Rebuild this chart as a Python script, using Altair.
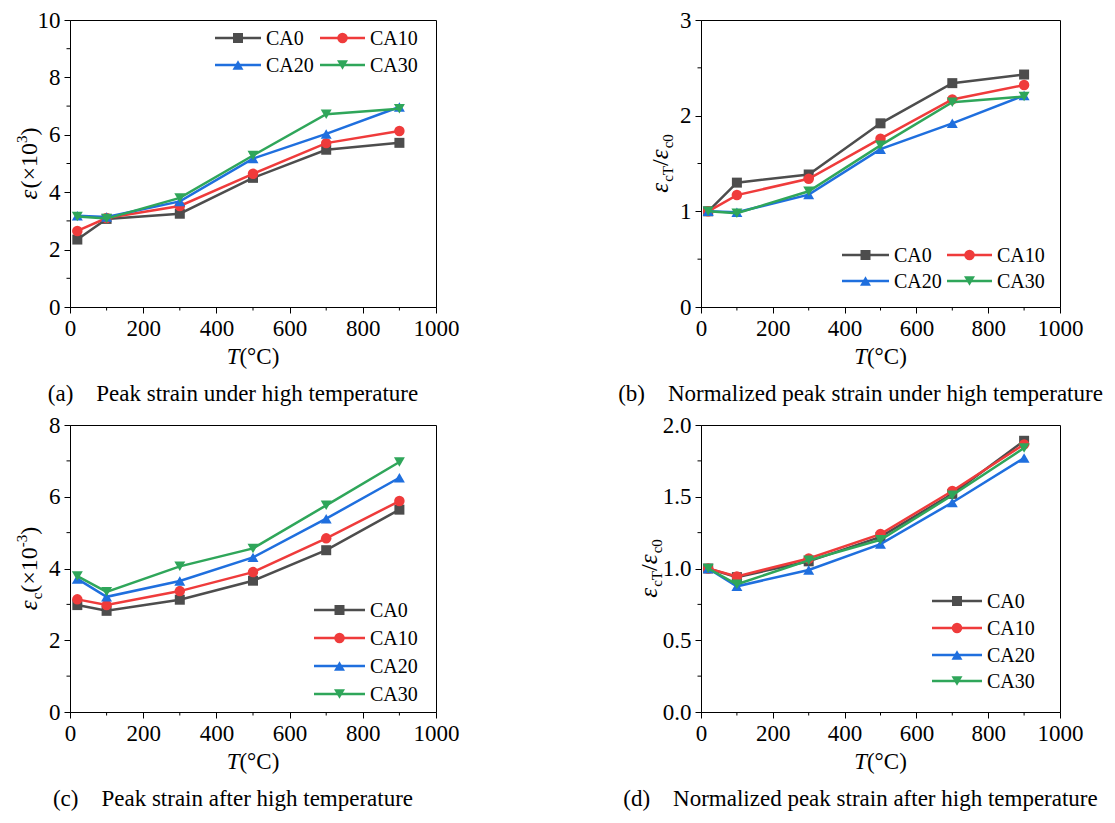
import altair as alt
import pandas as pd

# ---------------- data ----------------
T = [20, 100, 300, 500, 700, 900]
series = ["CA0", "CA10", "CA20", "CA30"]
colors = ["#4d4d4d", "#ef3b3b", "#1f6fde", "#2fa65a"]
shapes = ["square", "circle", "triangle-up", "triangle-down"]
sizes = [100, 110, 120, 120]

a_CA0 = [2.35, 3.07, 3.25, 4.50, 5.48, 5.72]
a_CA10 = [2.65, 3.10, 3.52, 4.64, 5.71, 6.13]
a_CA20 = [3.18, 3.14, 3.68, 5.17, 6.03, 6.97]
a_CA30 = [3.15, 3.08, 3.80, 5.28, 6.72, 6.91]

b_CA0 = [1.0, 1.30, 1.385, 1.92, 2.34, 2.43]
b_CA10 = [1.0, 1.17, 1.34, 1.76, 2.17, 2.32]
b_CA20 = [1.0, 0.99, 1.175, 1.65, 1.92, 2.21]
b_CA30 = [1.0, 0.98, 1.21, 1.69, 2.14, 2.20]

c_CA0 = [2.98, 2.82, 3.13, 3.66, 4.51, 5.64]
c_CA10 = [3.14, 2.98, 3.37, 3.90, 4.84, 5.88]
c_CA20 = [3.71, 3.21, 3.65, 4.31, 5.39, 6.53]
c_CA30 = [3.79, 3.35, 4.06, 4.56, 5.76, 6.97]

d_CA0 = [1.0, 0.94, 1.05, 1.22, 1.52, 1.89]
d_CA10 = [1.0, 0.945, 1.07, 1.24, 1.54, 1.865]
d_CA20 = [1.0, 0.876, 0.99, 1.17, 1.46, 1.77]
d_CA30 = [1.0, 0.89, 1.057, 1.20, 1.51, 1.84]

x_ticks = [0, 200, 400, 600, 800, 1000]
x_minor = [100, 300, 500, 700, 900]

a_yticks = [0, 2, 4, 6, 8, 10]
a_yminor = [1, 3, 5, 7, 9]
b_yticks = [0, 1, 2, 3]
b_yminor = [0.5, 1.5, 2.5]
c_yticks = [0, 2, 4, 6, 8]
c_yminor = [1, 3, 5, 7]
d_yticks = [0.0, 0.5, 1.0, 1.5, 2.0]
d_yminor = [0.25, 0.75, 1.25, 1.75]

captions = [
    "(a)\u00a0\u00a0\u00a0\u00a0Peak strain under high temperature",
    "(b)\u00a0\u00a0\u00a0\u00a0Normalized peak strain under high temperature",
    "(c)\u00a0\u00a0\u00a0\u00a0Peak strain after high temperature",
    "(d)\u00a0\u00a0\u00a0\u00a0Normalized peak strain after high temperature",
]

# ---------------- styling helpers ----------------
FONT = "Liberation Serif"
W1, W2, H = 366, 359, 287
ONE = pd.DataFrame({"k": [0]})

REG = {"(": 0.333, ")": 0.333, "\u00d7": 0.564, "-": 0.333, "/": 0.278,
       "\u00b0": 0.4, "C": 0.667, "c": 0.444, "T": 0.611}
for d in "0123456789":
    REG[d] = 0.5
ITA = {"\u03b5": 0.44, "T": 0.556}


def twidth(s, size, italic):
    tab = ITA if italic else REG
    return sum(tab.get(ch, 0.5) for ch in s) * size


def rich_text(pieces, cx, cy, vertical=False):
    """pieces: (text, size, italic, shift) ; shift>0 raises (superscript)."""
    total = sum(twidth(t, s, it) for t, s, it, _ in pieces)
    layers = []
    cum = 0.0
    for t, s, it, sh in pieces:
        mk = dict(text=t, font=FONT, fontSize=s, align="left",
                  baseline="alphabetic", color="black",
                  fontStyle="italic" if it else "normal")
        if vertical:
            y0 = cy + total / 2 - cum
            x0 = cx - sh
            layer = alt.Chart(ONE).mark_text(angle=270, **mk).encode(
                x=alt.value(x0), y=alt.value(y0))
        else:
            x0 = cx - total / 2 + cum
            y0 = cy - sh
            layer = alt.Chart(ONE).mark_text(**mk).encode(
                x=alt.value(x0), y=alt.value(y0))
        layers.append(layer)
        cum += twidth(t, s, it)
    return layers


def panel(vals, ydom, yticks, yminor, yfmt, W, ytitle, ytitle_x,
          legend_items, caption):
    xsc = alt.Scale(domain=[0, 1000], nice=False, zero=False)
    ysc = alt.Scale(domain=ydom, nice=False, zero=False)
    xax = alt.Axis(values=x_ticks, title=None, grid=False, tickSize=6,
                   labelPadding=4, format="d", labelFlush=False)
    yax = alt.Axis(values=yticks, title=None, grid=False, tickSize=6,
                   labelPadding=4, format=yfmt)
    X = alt.X("T:Q", scale=xsc, axis=xax)
    Y = alt.Y("v:Q", scale=ysc, axis=yax)

    layers = []
    # minor ticks
    layers.append(alt.Chart(pd.DataFrame({"T": x_minor})).mark_rule(
        color="black", strokeWidth=1).encode(
        x=X, y=alt.value(H), y2=alt.value(H + 3.5)))
    layers.append(alt.Chart(pd.DataFrame({"v": yminor})).mark_rule(
        color="black", strokeWidth=1).encode(
        y=Y, x=alt.value(0), x2=alt.value(-3.5)))

    for i, s in enumerate(series):
        df = pd.DataFrame({"T": T, "v": vals[i]})
        layers.append(alt.Chart(df).mark_line(
            color=colors[i], strokeWidth=2.5).encode(X, Y))
        layers.append(alt.Chart(df).mark_point(
            shape=shapes[i], filled=True, opacity=1, size=sizes[i],
            color=colors[i]).encode(X, Y))

    # legend
    for i, (lx0, lx1, ly) in legend_items:
        layers.append(alt.Chart(ONE).mark_rule(
            color=colors[i], strokeWidth=2.5).encode(
            x=alt.value(lx0), x2=alt.value(lx1), y=alt.value(ly)))
        layers.append(alt.Chart(ONE).mark_point(
            shape=shapes[i], filled=True, opacity=1, size=sizes[i],
            color=colors[i]).encode(
            x=alt.value((lx0 + lx1) / 2), y=alt.value(ly)))
        layers.append(alt.Chart(ONE).mark_text(
            text=series[i], font=FONT, fontSize=20, align="left",
            baseline="middle", color="black").encode(
            x=alt.value(lx1 + 5), y=alt.value(ly + 1)))

    # axis titles
    layers += rich_text(ytitle, ytitle_x, H / 2, vertical=True)
    layers += rich_text([("T", 23, True, 0), ("(\u00b0C)", 23, False, 0)],
                        W / 2, H + 57)
    # caption
    layers.append(alt.Chart(ONE).mark_text(
        text=caption, font=FONT, fontSize=23, align="center",
        baseline="alphabetic", color="black").encode(
        x=alt.value(W / 2 - 20), y=alt.value(H + 94)))

    return alt.layer(*layers).properties(width=W, height=H)


EPS = "\u03b5"

pa = panel([a_CA0, a_CA10, a_CA20, a_CA30], [0, 10], a_yticks, a_yminor, "d", W1,
           [(EPS, 25, True, 0), ("(\u00d710", 24, False, 0), ("3", 15, False, 10),
            (")", 24, False, 0)], -33,
           [(0, (W1 - 221, W1 - 175, 18)), (1, (W1 - 116, W1 - 71, 18)),
            (2, (W1 - 221, W1 - 175, 45)), (3, (W1 - 116, W1 - 71, 45))],
           captions[0])

pb = panel([b_CA0, b_CA10, b_CA20, b_CA30], [0, 3], b_yticks, b_yminor, "d", W2,
           [(EPS, 25, True, 0), ("cT", 15, False, -5), ("/", 24, False, 0),
            (EPS, 25, True, 0), ("c0", 15, False, -5)], -33,
           [(0, (W2 - 218, W2 - 171, H - 52)), (1, (W2 - 113, W2 - 68, H - 52)),
            (2, (W2 - 218, W2 - 171, H - 26)), (3, (W2 - 113, W2 - 68, H - 26))],
           captions[1])

pc = panel([c_CA0, c_CA10, c_CA20, c_CA30], [0, 8], c_yticks, c_yminor, "d", W1,
           [(EPS, 25, True, 0), ("c", 15, False, -5), ("(\u00d710", 24, False, 0),
            ("-3", 15, False, 10), (")", 24, False, 0)], -33,
           [(0, (W1 - 122, W1 - 71, H - 102)), (1, (W1 - 122, W1 - 71, H - 74)),
            (2, (W1 - 122, W1 - 71, H - 46)), (3, (W1 - 122, W1 - 71, H - 18))],
           captions[2])

pd_ = panel([d_CA0, d_CA10, d_CA20, d_CA30], [0, 2], d_yticks, d_yminor, ".1f", W2,
            [(EPS, 25, True, 0), ("cT", 15, False, -5), ("/", 24, False, 0),
             (EPS, 25, True, 0), ("c0", 15, False, -5)], -44,
            [(0, (W2 - 128, W2 - 78, H - 111)), (1, (W2 - 128, W2 - 78, H - 84)),
             (2, (W2 - 128, W2 - 78, H - 57)), (3, (W2 - 128, W2 - 78, H - 31))],
            captions[3])

chart = alt.concat(
    pa, pb, pc, pd_, columns=2,
    spacing={"row": 118, "column": 265}, bounds="flush"
).configure_view(
    stroke="black", strokeWidth=1
).configure_axis(
    domainColor="black", tickColor="black", labelColor="black",
    labelFont=FONT, labelFontSize=23, domainWidth=1, tickWidth=1
).properties(
    padding={"left": 6, "top": 0, "right": 0, "bottom": 0},
    background="white"
)

chart.save("out.html", embed_options={"renderer": "svg", "actions": False})
